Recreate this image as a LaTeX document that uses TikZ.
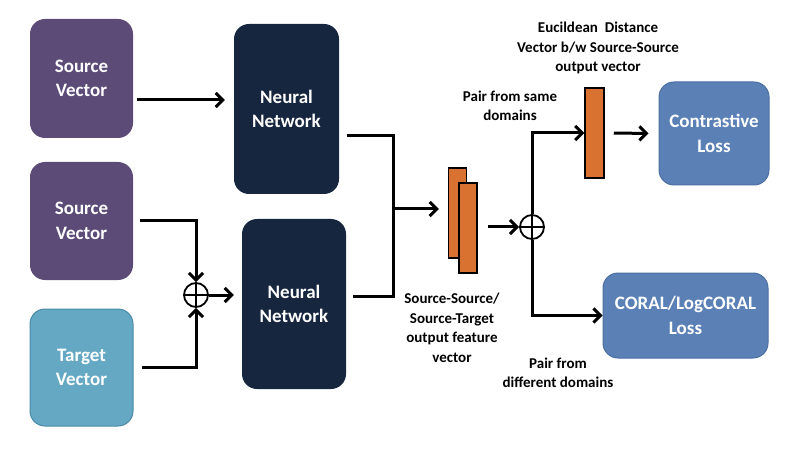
\documentclass[tikz,border=0pt]{standalone}
\usepackage{fontspec}
\setmainfont{Carlito}
\usetikzlibrary{arrows.meta}
\definecolor{srcpurple}{HTML}{5C4A77}
\definecolor{netnavy}{HTML}{17263F}
\definecolor{tgtteal}{HTML}{64A8C3}
\definecolor{tgtedge}{HTML}{4A8BA5}
\definecolor{lossblue}{HTML}{5A80B6}
\definecolor{lossedge}{HTML}{4A6FA0}
\definecolor{featorange}{HTML}{D97230}
\begin{document}
\begin{tikzpicture}[x=1pt,y=-1pt,
	box/.style={rounded corners=15pt,align=center,text=white,font=\bfseries\fontsize{19}{24.5}\selectfont,inner sep=0pt},
	bar/.style={draw=black,fill=featorange,line width=1.5pt,minimum width=18pt,minimum height=90pt,inner sep=0pt},
	plus/.style={circle,draw=black,line width=1.8pt,minimum size=24pt,inner sep=0pt,
		path picture={\draw[line width=1.5pt] (path picture bounding box.north) -- (path picture bounding box.south)
			(path picture bounding box.west) -- (path picture bounding box.east);}},
	lbl/.style={align=center,font=\bfseries\fontsize{15}{19.5}\selectfont},
	line/.style={line width=3pt},
	arr/.style={line width=3pt,-{Straight Barb[length=7pt,width=14pt]}}]
	\useasboundingbox (0,0) rectangle (794,454);
	\node[box,fill=srcpurple,minimum width=103pt,minimum height=119pt] (sv1) at (81.5,78.5) {Source\\Vector};
	\node[box,fill=srcpurple,minimum width=103pt,minimum height=118pt] (sv2) at (81.5,221) {Source\\Vector};
	\node[box,fill=tgtteal,draw=tgtedge,line width=1pt,minimum width=103pt,minimum height=117pt] (tv) at (81.5,367.5) {Target\\Vector};
	\node[box,fill=netnavy,minimum width=105pt,minimum height=170pt] (nn1) at (286.5,109) {Neural\\Network};
	\node[box,fill=netnavy,minimum width=104pt,minimum height=170pt] (nn2) at (294,304) {Neural\\Network};
	\node[plus] (plusA) at (196,295) {};
	\node[bar] (bar1) at (457.5,213) {};
	\node[bar] (bar2) at (468,228) {};
	\node[plus] (plusB) at (532,227) {};
	\node[bar,minimum width=19pt] (bar3) at (594.5,133) {};
	\node[box,fill=lossblue,draw=lossedge,line width=1pt,minimum width=110pt,minimum height=103pt] (closs) at (714,133.5) {Contrastive\\Loss};
	\node[box,fill=lossblue,draw=lossedge,line width=1pt,minimum width=165pt,minimum height=85pt] (coral) at (685.5,315.5) {CORAL/LogCORAL\\Loss};
	\coordinate (merge) at (393,209);

	\draw[arr,shorten <=4pt,shorten >=9pt] (sv1.east |- 0,100) -- (nn1.west |- 0,100);
	\draw[arr] ([xshift=7pt]sv2.east) -| (plusA.north);
	\draw[arr] ([xshift=8pt]tv.east) -| (plusA.south);
	\draw[arr,shorten >=8pt] (plusA.east) -- (nn2.west |- plusA.east);
	\draw[line,shorten <=8pt] (nn1.east |- 0,136) -| (merge);
	\draw[line,shorten <=7pt] (nn2.east |- 0,296) -| (merge);
	\draw[arr,shorten >=9pt] (merge) -- (bar1.west |- merge);
	\draw[arr,shorten <=10pt] (bar2.east |- plusB) -- (plusB.west);
	\draw[arr] (plusB.north) |- (bar3.west);
	\draw[arr] (plusB.south) |- (coral.west);
	\draw[arr,shorten <=9pt,shorten >=10pt] (bar3.east) -- (closs.west);

	\node[lbl] (eucl) at (598,48) {Eucildean~~Distance\\Vector b/w Source-Source\\output vector};
	\node[lbl] (same) at (510,106) {Pair from same\\domains};
	\node[lbl] (feat) at (452,328) {Source-Source/\\Source-Target\\output feature\\vector};
	\node[lbl] (diff) at (558,373) {Pair from\\different domains};
\end{tikzpicture}
\end{document}
